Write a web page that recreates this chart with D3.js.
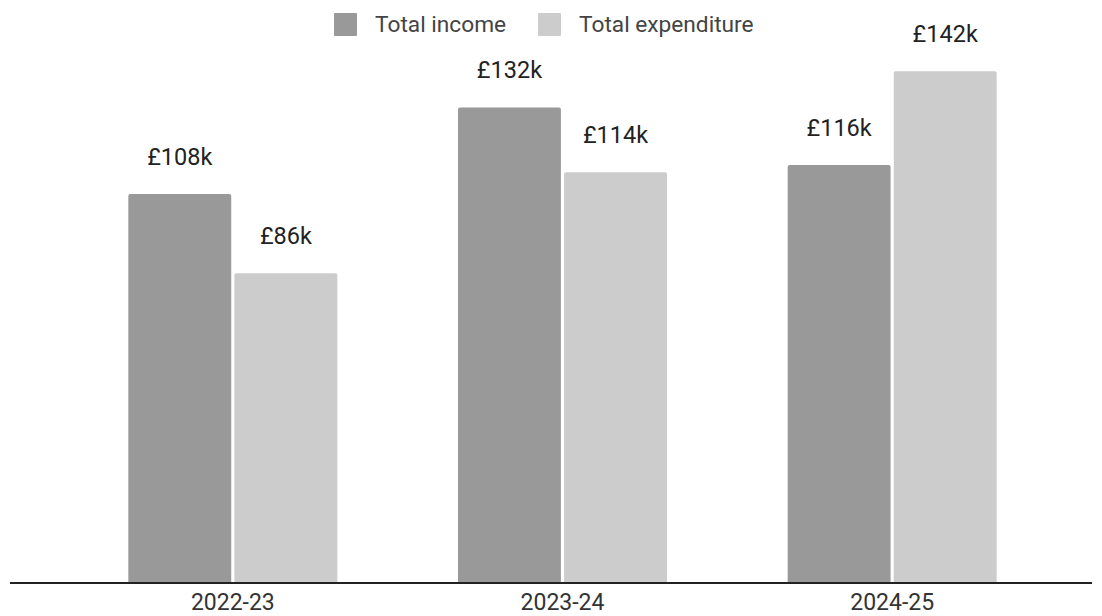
<!DOCTYPE html>
<html>
<head>
<meta charset="utf-8">
<script src="https://cdn.jsdelivr.net/npm/d3@7"></script>
<style>
  body { margin: 0; background: #fff; }
  text { font-family: Roboto, "Noto Sans", sans-serif; }
</style>
</head>
<body>
<div id="chart"></div>
<script>
// data
var years = ["2022-23", "2023-24", "2024-25"];
var seriesNames = ["Total income", "Total expenditure"];
var income = [108, 132, 116];
var expenditure = [86, 114, 142];
var barLabels = [["£108k", "£86k"], ["£132k", "£114k"], ["£116k", "£142k"]];
var colors = ["#999999", "#cccccc"];

var svgWidth = 1102;
var svgHeight = 616;
var baseline = 583;

var svg = d3.select("#chart")
  .append("svg")
  .attr("width", svgWidth)
  .attr("height", svgHeight);

// scales
var x0 = d3.scaleBand()
  .domain(years)
  .range([68, 1057])
  .paddingInner(0.366)
  .paddingOuter(0.183);

var x1 = d3.scaleBand()
  .domain(seriesNames)
  .range([0, x0.bandwidth()])
  .paddingInner(0.03);

var y = d3.scaleLinear()
  .domain([0, 160])
  .range([baseline, baseline - 160 * 3.603]);

var color = d3.scaleOrdinal().domain(seriesNames).range(colors);

var rows = years.map(function(yr, i) {
  return {
    year: yr,
    values: [
      { name: seriesNames[0], value: income[i], label: barLabels[i][0] },
      { name: seriesNames[1], value: expenditure[i], label: barLabels[i][1] }
    ]
  };
});

var groups = svg.selectAll(".group")
  .data(rows)
  .enter()
  .append("g")
  .attr("class", "group")
  .attr("transform", d => `translate(${x0(d.year)},0)`);

groups.selectAll("path")
  .data(d => d.values)
  .enter()
  .append("path")
  .attr("fill", d => color(d.name))
  .attr("d", function(d) {
    var bx = x1(d.name), bw = x1.bandwidth();
    var top = y(d.value), r = 2;
    return `M${bx},${baseline}V${top + r}Q${bx},${top} ${bx + r},${top}H${bx + bw - r}Q${bx + bw},${top} ${bx + bw},${top + r}V${baseline}Z`;
  });

groups.selectAll(".barLabel")
  .data(d => d.values)
  .enter()
  .append("text")
  .attr("class", "barLabel")
  .attr("x", d => x1(d.name) + x1.bandwidth() / 2)
  .attr("y", d => y(d.value) - 29)
  .attr("text-anchor", "middle")
  .attr("font-size", "23.5px")
  .attr("fill", "#222")
  .text(d => d.label);

// baseline
svg.append("line")
  .attr("x1", 10)
  .attr("x2", 1092)
  .attr("y1", baseline)
  .attr("y2", baseline)
  .attr("stroke", "#222")
  .attr("stroke-width", 2);

// x axis labels
var xAxis = d3.axisBottom(x0).tickSize(0).tickPadding(27);
var xAxisG = svg.append("g")
  .attr("transform", `translate(0,${baseline})`)
  .call(xAxis);
xAxisG.select(".domain").remove();
xAxisG.selectAll("text")
  .attr("dy", null)
  .attr("font-size", "23px")
  .attr("fill", "#333")
  .attr("font-family", "Roboto, sans-serif");

// legend
var legendX = [334, 538];
var legend = svg.selectAll(".legend")
  .data(seriesNames)
  .enter()
  .append("g")
  .attr("class", "legend")
  .attr("transform", (d, i) => `translate(${legendX[i]},13)`);

legend.append("rect")
  .attr("width", 23)
  .attr("height", 23)
  .attr("rx", 1)
  .attr("fill", d => color(d));

legend.append("text")
  .attr("x", 41)
  .attr("y", 19)
  .attr("font-size", "22.7px")
  .attr("font-family", "'Liberation Sans', Arial, sans-serif")
  .attr("fill", "#444")
  .text(d => d);
</script>
</body>
</html>
